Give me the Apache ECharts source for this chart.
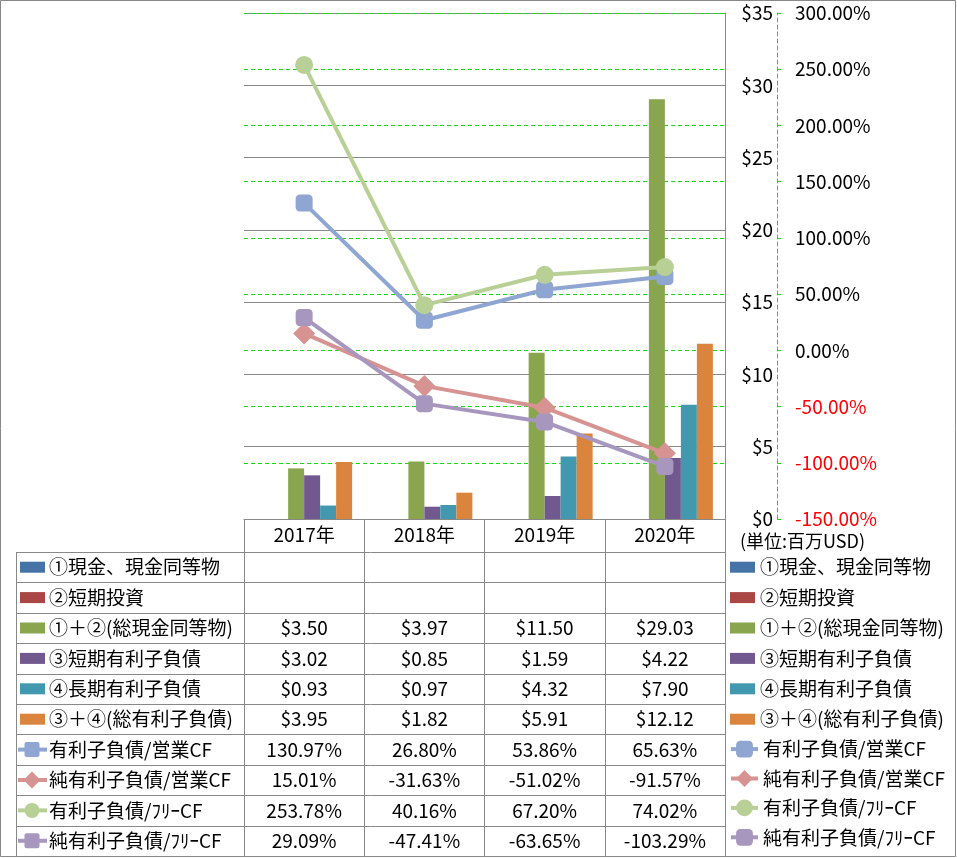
<!DOCTYPE html>
<html><head><meta charset="utf-8">
<script src="https://cdn.jsdelivr.net/npm/echarts@6/dist/echarts.min.js"></script>
<style>html,body{margin:0;padding:0;background:#fff}#c{width:957px;height:858px}</style>
</head><body><div id="c"></div>
<script>
// ---- data ----
const years = ['2017年', '2018年', '2019年', '2020年'];
const barNames = ['①現金、現金同等物', '②短期投資', '①＋②(総現金同等物)', '③短期有利子負債', '④長期有利子負債', '③＋④(総有利子負債)'];
const cash = [null, null, null, null];
const stInvest = [null, null, null, null];
const totalCash = [3.50, 3.97, 11.50, 29.03];
const stDebt = [3.02, 0.85, 1.59, 4.22];
const ltDebt = [0.93, 0.97, 4.32, 7.90];
const totalDebt = [3.95, 1.82, 5.91, 12.12];
const lineNames = ['有利子負債/営業CF', '純有利子負債/営業CF', '有利子負債/ﾌﾘｰCF', '純有利子負債/ﾌﾘｰCF'];
const debtOpCF = [130.97, 26.80, 53.86, 65.63];
const netDebtOpCF = [15.01, -31.63, -51.02, -91.57];
const debtFCF = [253.78, 40.16, 67.20, 74.02];
const netDebtFCF = [29.09, -47.41, -63.65, -103.29];
const usdMin = 0, usdMax = 35, usdStep = 5;
const pctMin = -150, pctMax = 300, pctStep = 50;
const unitLabel = '(単位:百万USD)';

// ---- style ----
const FONT = '"Noto Sans CJK JP", "Noto Sans", sans-serif';
const FS = 19;
const barColors = ['#4572A7', '#AA4643', '#89A54E', '#71588F', '#4198AF', '#DB843D'];
const lineColors = ['#8EA6D1', '#D69392', '#B8CF96', '#A797BF'];
const lineSymbols = ['roundRect', 'diamond', 'circle', 'roundRect'];
const lineSymbolSizes = [17, 22, 18, 17];
const GRAY = '#888888';
const GREEN = '#11DD11';

const barData = [cash, stInvest, totalCash, stDebt, ltDebt, totalDebt];
const lineData = [debtOpCF, netDebtOpCF, debtFCF, netDebtFCF];

const gridLeft = 244, gridRight = 725, gridTop = 13, gridBottom = 519;
const rowY0 = 552, rowH = 30.4, tableLeft = 16;

const chart = echarts.init(document.getElementById('c'), null, {renderer: 'canvas'});

const series = [];
barNames.forEach((n, i) => series.push({
  name: n, type: 'bar', yAxisIndex: 0, data: barData[i],
  barWidth: 16, barGap: '0%', itemStyle: {color: barColors[i]}
}));
lineNames.forEach((n, i) => series.push({
  name: n, type: 'line', yAxisIndex: 1, data: lineData[i],
  symbol: lineSymbols[i], symbolSize: lineSymbolSizes[i], showAllSymbol: true,
  lineStyle: {color: lineColors[i], width: 4},
  itemStyle: {color: lineColors[i]}, z: 3
}));

chart.setOption({
  animation: false,
  textStyle: {fontFamily: FONT},
  grid: {left: gridLeft, right: 957 - gridRight, top: gridTop, bottom: 858 - gridBottom, containLabel: false},
  xAxis: {
    type: 'category', data: years,
    axisLine: {show: true, lineStyle: {color: GRAY, width: 1}},
    axisTick: {show: true, length: 856 - gridBottom, lineStyle: {color: GRAY}},
    axisLabel: {color: '#000', fontSize: FS, fontFamily: FONT, margin: 6}
  },
  yAxis: [{
    type: 'value', position: 'right', offset: 0,
    min: usdMin, max: usdMax, interval: usdStep,
    axisLine: {show: true, lineStyle: {color: GRAY}},
    axisTick: {show: false},
    axisLabel: {color: '#000', fontSize: FS, fontFamily: FONT, margin: 48, align: 'right',
      formatter: v => '$' + v},
    splitLine: {show: true, lineStyle: {color: GRAY, width: 1}}
  }, {
    type: 'value', position: 'right', offset: 52,
    min: pctMin, max: pctMax, interval: pctStep,
    axisLine: {show: true, lineStyle: {color: GREEN, type: [4, 3], width: 1}},
    axisTick: {show: true, length: 4, lineStyle: {color: GREEN}},
    axisLabel: {fontSize: FS, fontFamily: FONT, margin: 18,
      color: v => (Number(v) < 0 ? '#FF0000' : '#000'),
      formatter: v => v.toFixed(2) + '%'},
    splitLine: {show: true, lineStyle: {color: GREEN, type: [4, 3], width: 1}}
  }],
  legend: [{
    data: barNames, orient: 'vertical', left: 730, top: rowY0 + rowH * 0.5 - 10, padding: 0,
    itemWidth: 25, itemHeight: 11, itemGap: rowH - 20, icon: 'rect',
    textStyle: {fontSize: FS, fontFamily: FONT, color: '#000', lineHeight: 20}
  }, {
    data: lineNames, orient: 'vertical', left: 729, top: rowY0 + rowH * 6.5 - 10.5, padding: 0,
    itemWidth: 27, itemHeight: 21, itemGap: rowH - 21,
    lineStyle: {width: 4},
    textStyle: {fontSize: FS, fontFamily: FONT, color: '#000', lineHeight: 20}
  }],
  series: series
});

// ---- data table (built from the arrays) ----
const g = [];
g.push({type: 'rect', shape: {x: 0.5, y: 0.5, width: 955, height: 856}, style: {fill: 'none', stroke: GRAY, lineWidth: 1}, silent: true});
for (let k = 0; k <= 10; k++) {
  const y = Math.round(rowY0 + rowH * k) + 0.5;
  g.push({type: 'line', shape: {x1: tableLeft, y1: y, x2: gridRight, y2: y}, style: {stroke: GRAY, lineWidth: 1}, silent: true});
}
g.push({type: 'line', shape: {x1: tableLeft + 0.5, y1: rowY0, x2: tableLeft + 0.5, y2: rowY0 + rowH * 10}, style: {stroke: GRAY, lineWidth: 1}, silent: true});

const rowNames = barNames.concat(lineNames);
const rowVals = barData.concat(lineData);
const centers = years.map(y => chart.convertToPixel({xAxisIndex: 0}, y));
rowNames.forEach((name, r) => {
  const cy = rowY0 + rowH * (r + 0.5);
  if (r < 6) {
    g.push({type: 'rect', shape: {x: 20, y: cy - 5.5, width: 25, height: 11}, style: {fill: barColors[r]}, silent: true});
  } else {
    const li = r - 6, c = lineColors[li];
    g.push({type: 'line', shape: {x1: 18, y1: cy, x2: 47, y2: cy}, style: {stroke: c, lineWidth: 4}, silent: true});
    if (lineSymbols[li] === 'circle') {
      g.push({type: 'circle', shape: {cx: 32, cy: cy, r: 7.5}, style: {fill: c}, silent: true});
    } else if (lineSymbols[li] === 'diamond') {
      g.push({type: 'polygon', shape: {points: [[32, cy - 8.5], [40.5, cy], [32, cy + 8.5], [23.5, cy]]}, style: {fill: c}, silent: true});
    } else {
      g.push({type: 'rect', shape: {x: 24.5, y: cy - 7.5, width: 15, height: 15, r: 2}, style: {fill: c}, silent: true});
    }
  }
  g.push({type: 'text', style: {text: name, x: 49, y: cy, verticalAlign: 'middle', align: 'left', fontSize: FS, fontFamily: FONT, fill: '#000'}, silent: true});
  rowVals[r].forEach((v, i) => {
    if (v === null || v === undefined) return;
    const txt = r < 6 ? '$' + v.toFixed(2) : v.toFixed(2) + '%';
    g.push({type: 'text', style: {text: txt, x: centers[i], y: cy, align: 'center', verticalAlign: 'middle', fontSize: FS, fontFamily: FONT, fill: '#000'}, silent: true});
  });
});
g.push({type: 'text', style: {text: unitLabel, x: 740, y: 541, verticalAlign: 'middle', align: 'left', fontSize: 18, fontFamily: FONT, fill: '#000'}, silent: true});

chart.setOption({graphic: g});
</script>
</body></html>
